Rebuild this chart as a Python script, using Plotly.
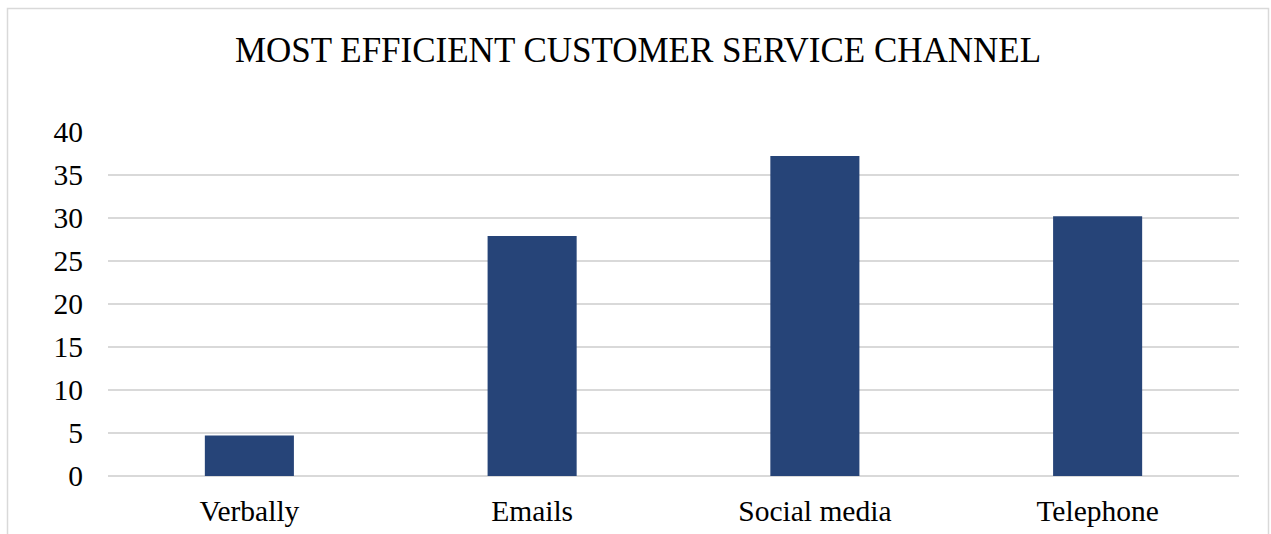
import plotly.graph_objects as go

# Survey results: preferred customer service channel
channels = ["Verbally", "Emails", "Social media", "Telephone"]
responses = [4.7, 27.9, 37.2, 30.2]
y_ticks = [0, 5, 10, 15, 20, 25, 30, 35, 40]

W, H = 1271, 534
ml, mr, mt, mb = 108, 32, 132, 58
pw, ph = W - ml - mr, H - mt - mb

serif = "Liberation Serif, Times New Roman, serif"

fig = go.Figure(
    go.Bar(
        x=channels,
        y=responses,
        marker=dict(color="#264478", line=dict(width=0)),
    )
)

# Chart-area border (extends past the bottom of the canvas)
def px_to_paper_x(px):
    return (px - ml) / pw

def px_to_paper_y(py):
    return (H - mb - py) / ph

fig.add_shape(
    type="rect",
    xref="paper", yref="paper",
    x0=px_to_paper_x(7.5), x1=px_to_paper_x(1268.5),
    y0=px_to_paper_y(560), y1=px_to_paper_y(8.5),
    line=dict(color="#d9d9d9", width=1.5),
    fillcolor="rgba(0,0,0,0)",
    layer="below",
)

fig.update_layout(
    width=W, height=H,
    margin=dict(l=ml, r=mr, t=mt, b=mb, autoexpand=False),
    paper_bgcolor="white",
    plot_bgcolor="white",
    bargap=0.685,
    showlegend=False,
    title=dict(
        text="MOST EFFICIENT CUSTOMER SERVICE CHANNEL",
        font=dict(family=serif, size=35, color="black"),
        x=(7.5 + 1268.5) / 2 / W, xanchor="center",
        y=1 - 50 / H, yanchor="middle", yref="container",
    ),
    font=dict(family=serif, color="black"),
)

fig.update_xaxes(
    automargin=False,
    showgrid=False,
    showline=False,
    ticks="",
    tickfont=dict(family=serif, size=29.5, color="black"),
    ticklabelstandoff=14,
)
fig.update_yaxes(
    automargin=False,
    range=[0, 40],
    tickvals=y_ticks,
    showgrid=True,
    gridcolor="#d9d9d9",
    gridwidth=1.5,
    zeroline=True,
    zerolinecolor="#d9d9d9",
    zerolinewidth=1.5,
    showline=False,
    ticks="",
    tickfont=dict(family=serif, size=29.5, color="black"),
    ticklabelstandoff=24,
)

fig.write_html("out.html")
